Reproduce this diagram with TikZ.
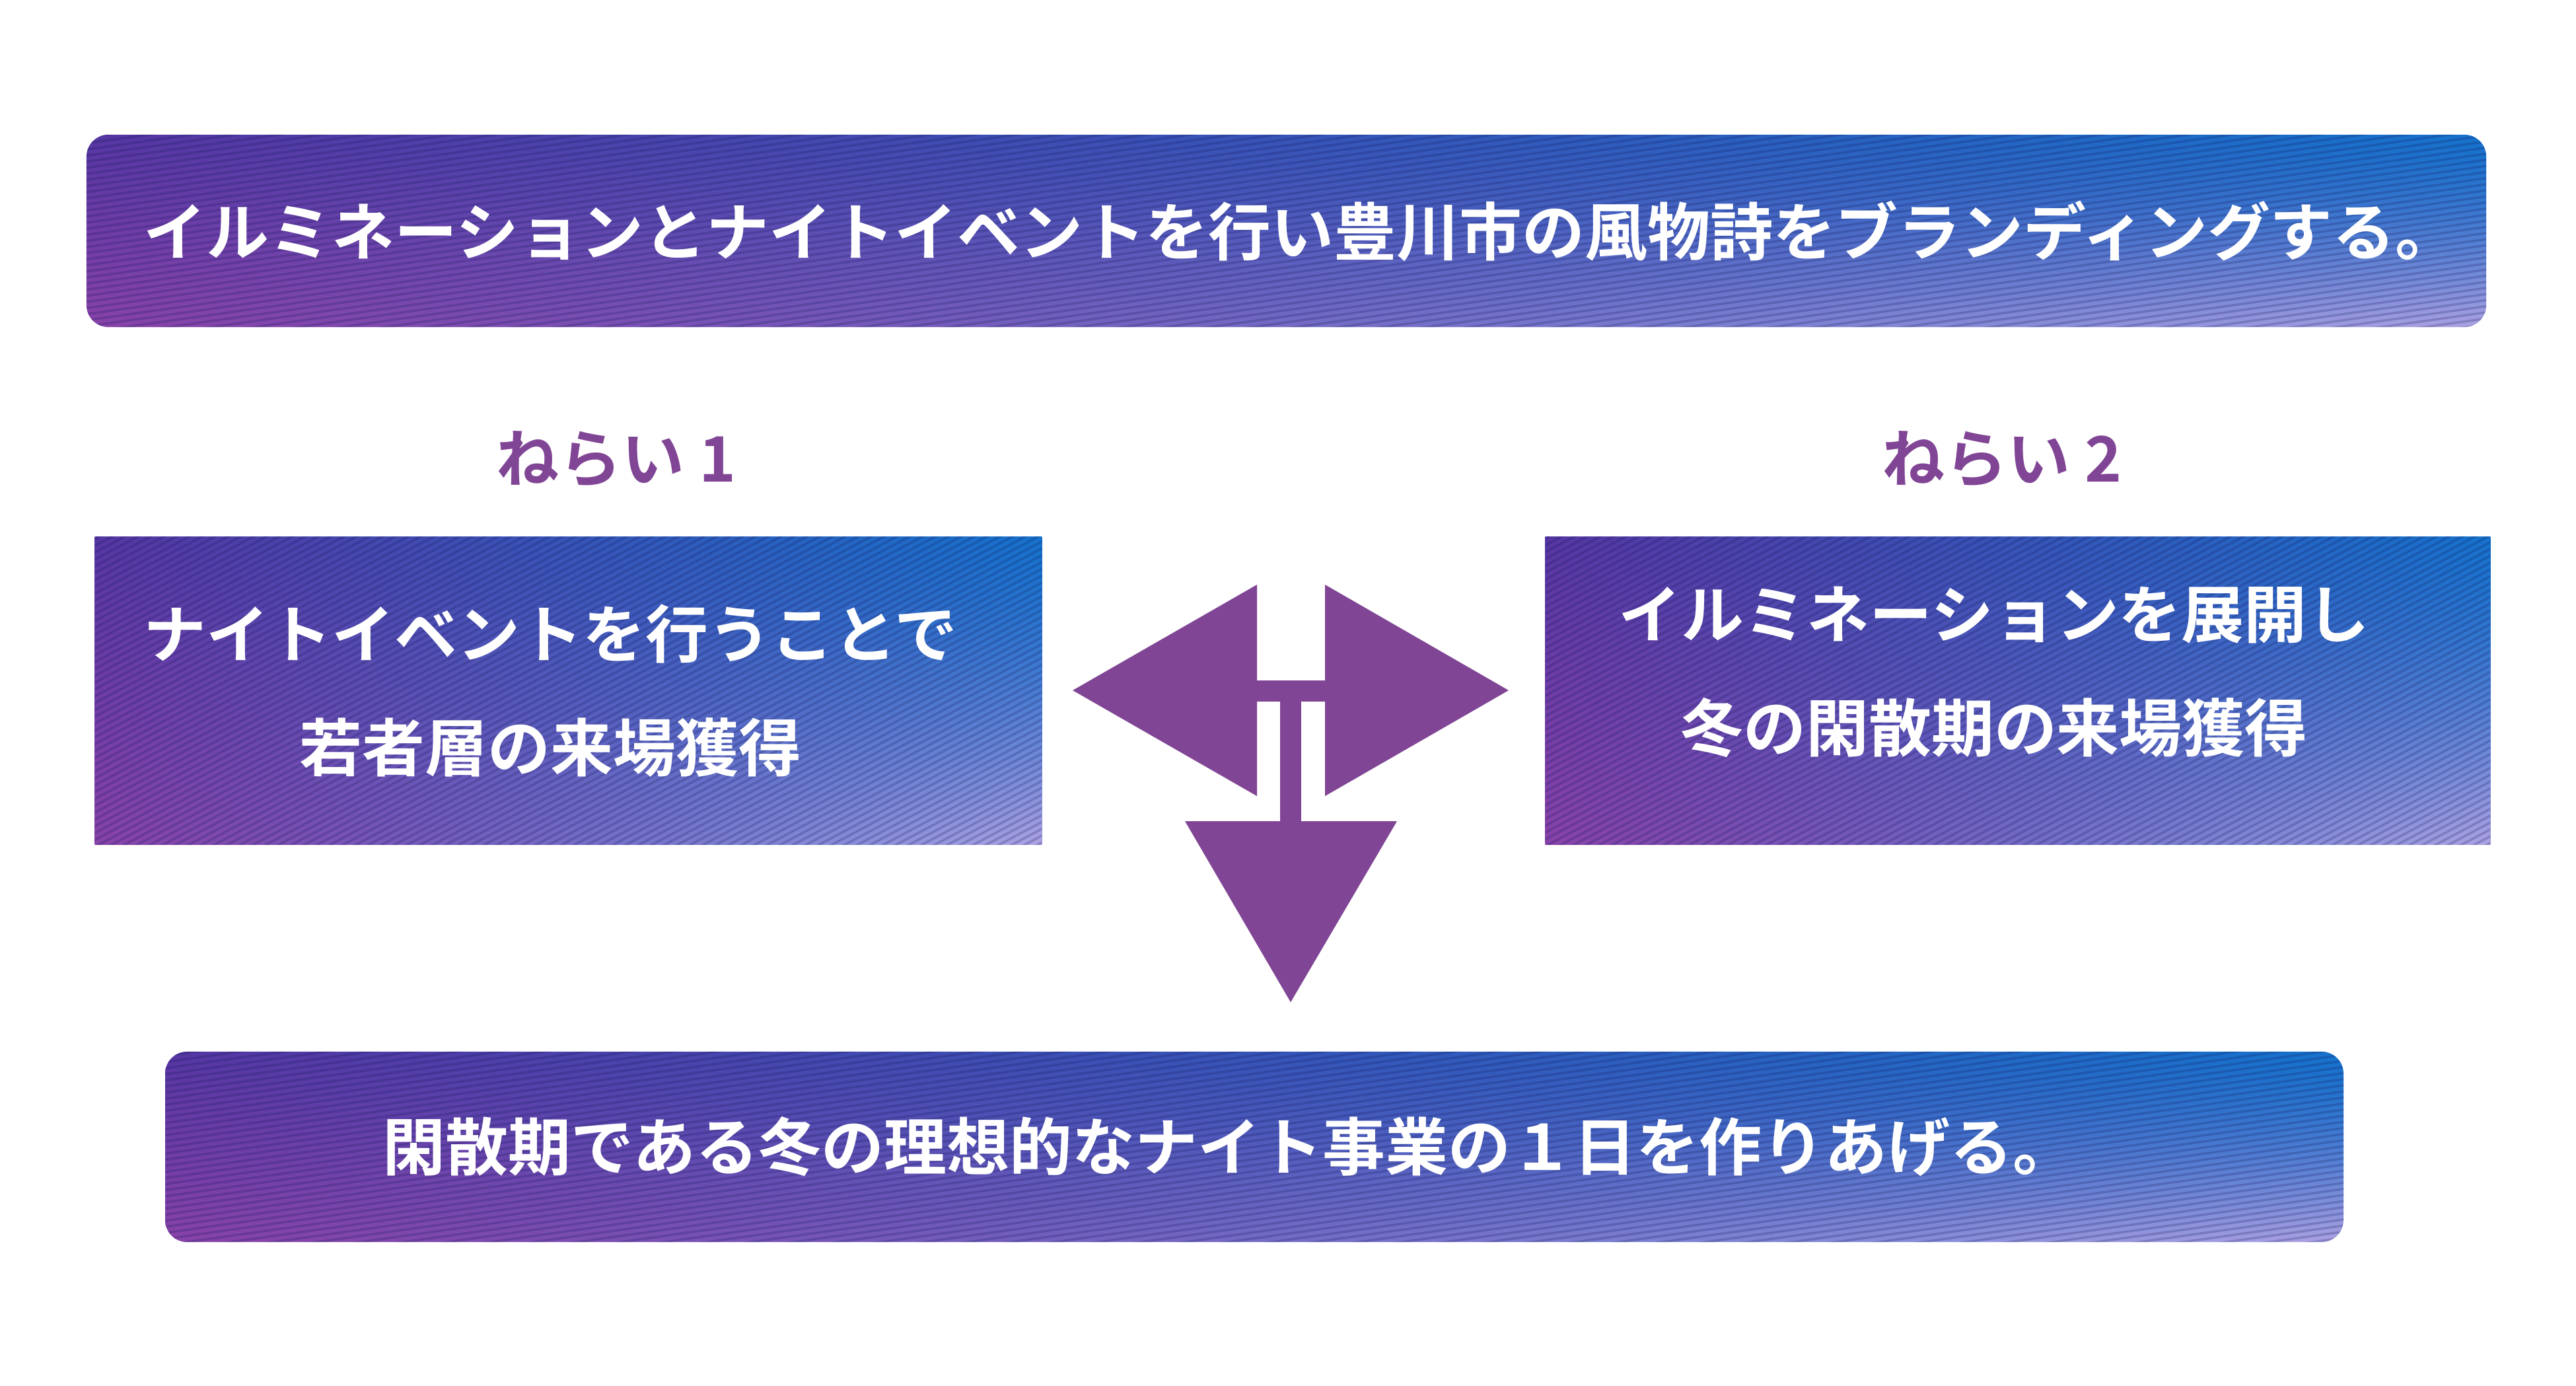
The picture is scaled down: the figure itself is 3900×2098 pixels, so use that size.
\documentclass[tikz,border=0pt]{standalone}
\usepackage{fontspec}
\usepackage{xcolor}
\usepackage{tikz}
\usetikzlibrary{positioning}
\newfontfamily\jpbold{Noto Sans CJK JP Bold}

\definecolor{naraiPurple}{RGB}{129,69,149}
\definecolor{bandInk}{RGB}{16,22,90}

\pgfdeclarefunctionalshading{bandquad}{\pgfpoint{-50bp}{-50bp}}{\pgfpoint{50bp}{50bp}}{}{
  exch 25 add 50 div exch 25 add 50 div
  1 index 1 index 1 exch sub mul dup mul
  2 index 2 index mul
  3 index -0.298 mul 3 index -0.196 mul add 1 index 0.047 mul add 0.533 add
  dup 0.675 exch sub 3 index mul add
  4 index 0.172 mul 4 index -0.047 mul add 2 index 0.063 mul add 0.259 add
  dup 0.635 exch sub 4 index mul add
  5 index 0.141 mul 5 index -0.024 mul add 3 index 0.024 mul add 0.659 add
  dup 0.886 exch sub 5 index mul add
  7 3 roll pop pop pop pop
}

\begin{document}
\begin{tikzpicture}[x=0.01cm, y=-0.01cm,
  stripeline/.style={draw=bandInk, line width=1pt, draw opacity=0.22},
  panel/.style={rectangle, inner sep=0pt, shade, shading=bandquad,
    path picture={
      \foreach \k in {-80,...,80}
        \draw[stripeline] ([shift={({\k*2.6pt*sin(-#1)},{\k*2.6pt*cos(#1)})}]path picture bounding box.center)
          ++({-30cm*cos(#1)},{-30cm*sin(#1)}) -- ++({60cm*cos(#1)},{60cm*sin(#1)});
    }},
  banner/.style={panel=8, rounded corners=0.33cm},
  lead/.style={text=white, font=\jpbold\fontsize{27}{49}\selectfont, align=center},
  aimlabel/.style={text=naraiPurple, font=\jpbold\fontsize{27}{32}\selectfont},
  split/.style={fill=naraiPurple},
]
\useasboundingbox (0,0) rectangle (3900,2098);

\node[banner, minimum width=36.31cm, minimum height=2.91cm] (goal) at (1947.5,349.5) {};
\node[panel=28, minimum width=14.33cm, minimum height=4.65cm] (aim1) at (860.5,1045.5) {};
\node[panel=28, minimum width=14.30cm, minimum height=4.65cm] (aim2) at (3055,1045.5) {};
\node[banner, minimum width=32.96cm, minimum height=2.88cm] (result) at (1899,1736) {};

\node[lead] (goaltext) at ([xshift=0.22cm]goal.center) {イルミネーションとナイトイベントを行い豊川市の風物詩をブランディングする。};
\node[lead] (aim1text) at ([xshift=-0.27cm]aim1.center) {ナイトイベントを行うことで\\若者層の来場獲得};
\node[lead] (aim2text) at ([xshift=-0.36cm, yshift=0.28cm]aim2.center) {イルミネーションを展開し\\冬の閑散期の来場獲得};
\node[lead] (resulttext) at ([xshift=-0.38cm]result.center) {閑散期である冬の理想的なナイト事業の１日を作りあげる。};

\node[aimlabel] (aim1label) at (933,695) {ねらい 1};
\node[aimlabel] (aim2label) at (3031,695) {ねらい 2};

\fill[split] (1624,1045) -- (1903,885) -- (1903,1205) -- cycle;
\fill[split] (2284,1045) -- (2006,885) -- (2006,1205) -- cycle;
\fill[split] (1900,1030) rectangle (2009,1062);
\fill[split] (1938,1058) rectangle (1970,1246);
\fill[split] (1794,1243) -- (2115,1243) -- (1954,1517) -- cycle;
\end{tikzpicture}
\end{document}
